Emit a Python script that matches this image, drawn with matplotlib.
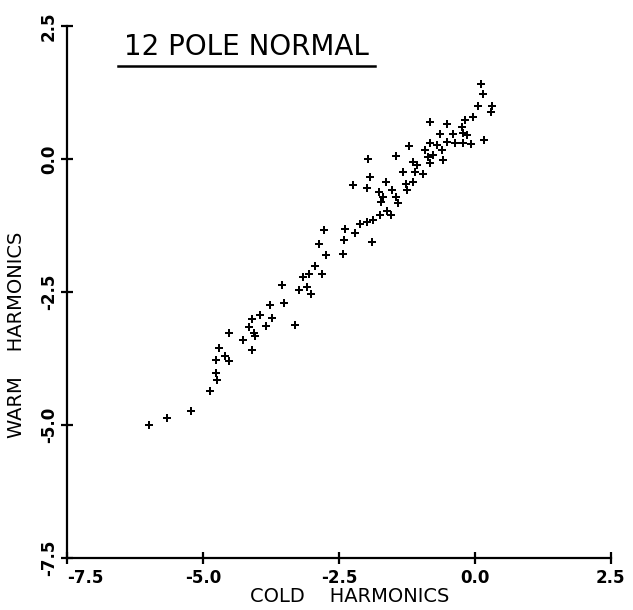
import matplotlib
matplotlib.use("Agg")
import matplotlib.pyplot as plt

# cold vs warm harmonic values
cold = [-5.99, -5.66, -5.23, -4.87, -4.75, -4.76, -4.77, -4.71, -4.59, -4.52,
        -4.52, -4.26, -4.10, -4.15, -4.06, -4.04, -4.10, -3.95, -2.78, -2.87,
        -2.74, -2.95, -2.81, -3.06, -3.17, -3.54, -3.23, -3.09, -3.02, -3.52,
        -3.76, -3.74, -3.84, -3.31, -1.21, -1.45, -1.96, -1.32, -1.93, -2.24,
        -1.98, -1.64, -1.53, -1.26, -1.24, -1.76, -1.69, -1.45, -1.72, -1.41,
        -1.61, -1.54, -1.75, -1.87, -1.99, -2.11, -2.39, -2.21, -2.41, -1.90,
        -2.42, -0.83, -0.52, -0.24, -0.64, -0.40, -0.22, -0.15, -0.83, -0.70,
        -0.52, -0.37, -0.22, -0.08, -0.61, -0.92, -0.86, -0.77, -0.58, -1.13,
        -1.07, -0.83, -1.10, -0.95, -1.13, 0.12, 0.15, 0.05, 0.31, 0.29,
        -0.03, -0.18, 0.17]
warm = [-5.00, -4.86, -4.73, -4.36, -4.15, -4.01, -3.77, -3.55, -3.70, -3.79,
        -3.27, -3.40, -3.58, -3.15, -3.27, -3.33, -3.00, -2.92, -1.33, -1.60,
        -1.80, -2.01, -2.15, -2.16, -2.22, -2.36, -2.46, -2.41, -2.53, -2.70,
        -2.74, -2.98, -3.13, -3.11, 0.24, 0.06, 0.00, -0.24, -0.33, -0.49,
        -0.55, -0.43, -0.57, -0.46, -0.58, -0.61, -0.71, -0.71, -0.80, -0.83,
        -0.97, -1.05, -1.05, -1.15, -1.18, -1.21, -1.32, -1.39, -1.51, -1.55,
        -1.79, 0.70, 0.66, 0.60, 0.48, 0.47, 0.49, 0.45, 0.30, 0.26,
        0.33, 0.31, 0.31, 0.29, 0.17, 0.18, 0.04, 0.08, -0.01, -0.05,
        -0.11, -0.08, -0.24, -0.27, -0.43, 1.41, 1.22, 1.00, 1.00, 0.88,
        0.80, 0.73, 0.37]

ticks = [-7.5, -5.0, -2.5, 0.0, 2.5]
tick_labels = ["-7.5", "-5.0", "-2.5", "0.0", "2.5"]

fig = plt.figure(figsize=(6.33, 6.10), dpi=100)
ax = fig.add_axes([0.106, 0.085, 0.859, 0.872])

ax.scatter(cold, warm, marker="P", s=34, color="black", linewidths=0)

ax.set_xlim(-7.5, 2.5)
ax.set_ylim(-7.5, 2.5)
ax.spines["top"].set_visible(False)
ax.spines["right"].set_visible(False)
for s in ("left", "bottom"):
    ax.spines[s].set_linewidth(1.6)

ax.set_xticks(ticks)
ax.set_xticklabels(tick_labels, fontsize=12, fontweight="bold")
ax.set_yticks(ticks)
ax.set_yticklabels(tick_labels, fontsize=12, fontweight="bold", rotation=90, va="center")
ax.tick_params(direction="inout", length=9, width=1.6)
ax.tick_params(axis="x", pad=3)
ax.tick_params(axis="y", pad=2)
ax.get_xticklabels()[0].set_horizontalalignment("left")

ax.set_xlabel("COLD    HARMONICS", fontsize=14)
ax.set_ylabel("WARM    HARMONICS", fontsize=14)
ax.xaxis.set_label_coords(0.52, -0.055)
ax.yaxis.set_label_coords(-0.075, 0.42)

# underlined title inside the plot
ax.text(-4.21, 1.84, "12 POLE NORMAL", fontsize=20, ha="center", va="bottom")
ax.plot([-6.56, -1.84], [1.75, 1.75], color="black", lw=1.8, clip_on=False)

fig.savefig("out.png", dpi=100)
